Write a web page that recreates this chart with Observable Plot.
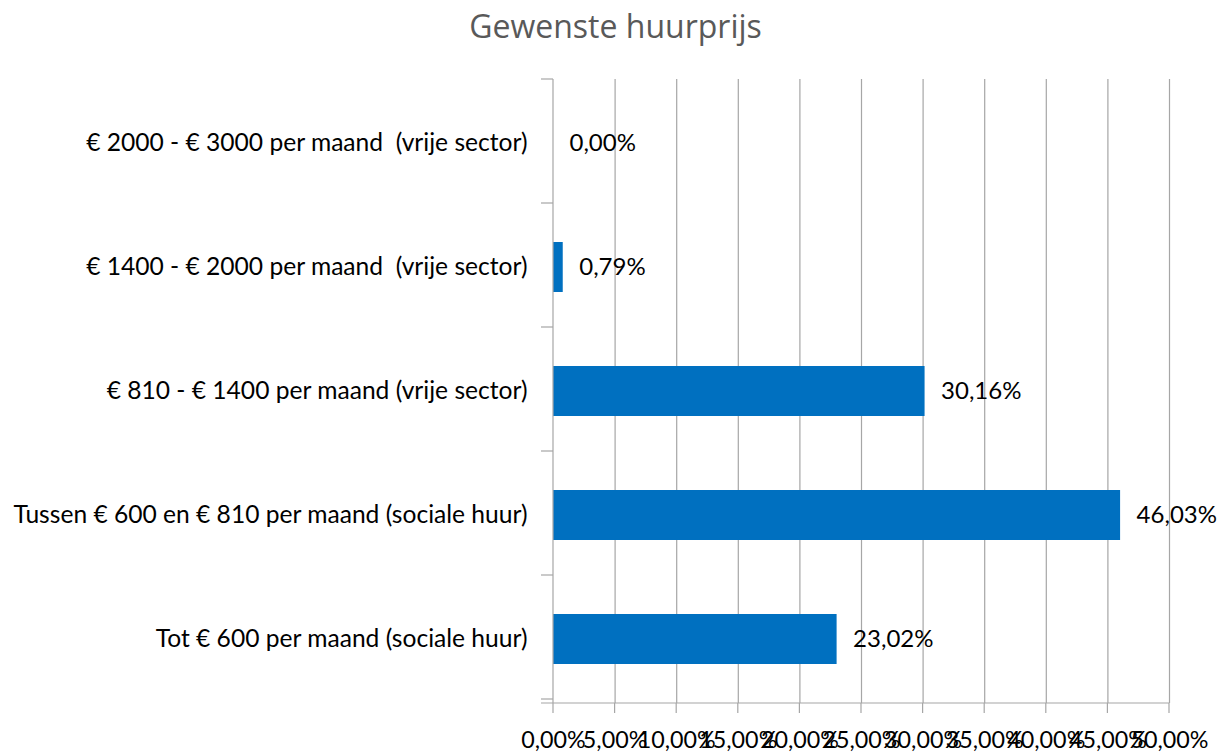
<!DOCTYPE html>
<html>
<head>
<meta charset="utf-8">
<script src="https://cdn.jsdelivr.net/npm/d3@7"></script>
<script src="https://cdn.jsdelivr.net/npm/@observablehq/plot@0.6"></script>
<style>
  body { margin: 0; background: #fff; }
  #title { height: 56px; line-height: 52px; text-align: center; font-family: "Open Sans", sans-serif; font-size: 32px; color: #595959; padding-left: 4px; }
  #chart svg { display: block; }
</style>
</head>
<body>
<div id="title">Gewenste huurprijs</div>
<div id="chart"></div>
<script>
const categories = [
  "€ 2000 - € 3000 per maand  (vrije sector)",
  "€ 1400 - € 2000 per maand  (vrije sector)",
  "€ 810 - € 1400 per maand (vrije sector)",
  "Tussen € 600 en € 810 per maand (sociale huur)",
  "Tot € 600 per maand (sociale huur)"
];
const values = [0.0000, 0.0079, 0.3016, 0.4603, 0.2302];
const xTicks = [0, 0.05, 0.10, 0.15, 0.20, 0.25, 0.30, 0.35, 0.40, 0.45, 0.50];

const data = categories.map((c, i) => ({category: c, value: values[i]}));
const pct = d => d3.format(".2%")(d).replace(".", ",");
const font = "Lato, sans-serif";

const axes = (index, scales, values, dims) => {
  const g = d3.create("svg:g").attr("stroke", "#a6a6a6").attr("stroke-width", 1.2).attr("fill", "none");
  const y = scales.y, x = scales.x;
  const x0 = x(0);
  const top = dims.marginTop, bottom = dims.height - dims.marginBottom;
  const step = y.step ? y.step() : (bottom - top) / categories.length;
  for (let i = 0; i <= categories.length; i++) {
    const yy = top + i * step;
    g.append("line").attr("x1", x0 - 12).attr("x2", x0).attr("y1", yy).attr("y2", yy);
  }
  g.append("line").attr("x1", x0).attr("x2", x0).attr("y1", top).attr("y2", bottom + 10);
  g.append("line").attr("x1", x0 - 12).attr("x2", x(0.5)).attr("y1", bottom).attr("y2", bottom);
  for (const t of xTicks) {
    if (t === 0) continue;
    g.append("line").attr("x1", x(t)).attr("x2", x(t)).attr("y1", bottom).attr("y2", bottom + 10);
  }
  return g.node();
};

const chart = Plot.plot({
  width: 1227,
  height: 697,
  marginLeft: 553,
  marginRight: 58,
  marginTop: 23,
  marginBottom: 50,
  style: {fontFamily: font, fontSize: "23px", color: "#000", background: "#fff"},
  x: {domain: [0, 0.5], ticks: xTicks, tickFormat: pct, label: null},
  y: {domain: categories, paddingInner: 0.6, paddingOuter: 0.3, label: null},
  marks: [
    Plot.gridX(xTicks.filter(t => t > 0), {stroke: "#a6a6a6", strokeOpacity: 1, strokeWidth: 1.2}),
    Plot.barX(data, {x: "value", y: "category", fill: "#0070c0"}),
    Plot.text(data, {x: "value", y: "category", text: d => pct(d.value), textAnchor: "start", dx: 16, fontSize: 24, fill: "#000"}),
    Plot.axisY({tickSize: 0, tickPadding: 26, fontSize: 24.6, fill: "#000"}),
    Plot.axisX({ticks: xTicks, tickFormat: pct, tickSize: 0, tickPadding: 28, fontSize: 23.3, fill: "#000"}),
    axes
  ]
});
document.getElementById("chart").appendChild(chart);
</script>
</body>
</html>
